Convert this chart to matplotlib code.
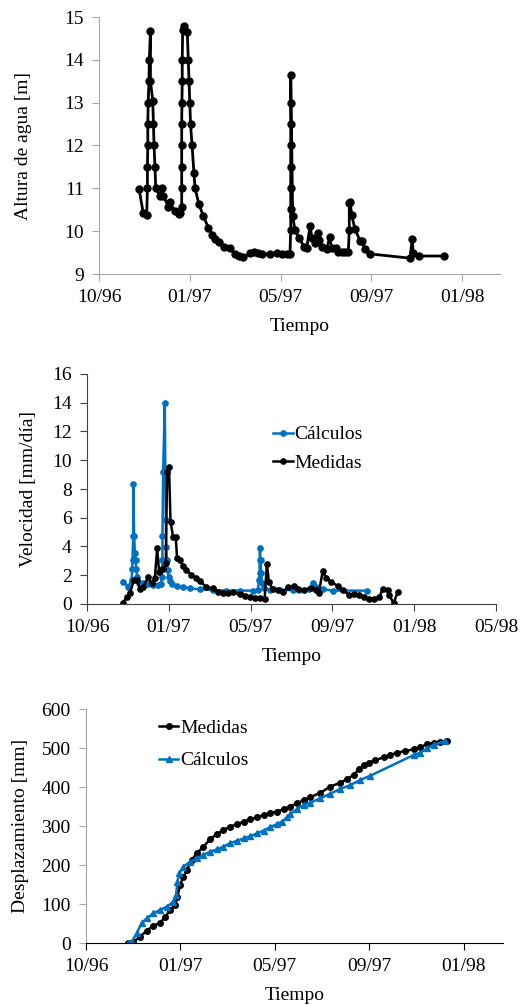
import matplotlib
matplotlib.use("Agg")
import matplotlib.pyplot as plt

plt.rcParams["font.family"] = ["Liberation Serif", "DejaVu Serif"]
plt.rcParams["font.size"] = 14

# Time axis: days since 1996-10-01, ticks every 120 days
tick_days = [0, 120, 240, 360, 480, 600]
tick_labels = ["10/96", "01/97", "05/97", "09/97", "01/98", "05/98"]

# Water level (Altura de agua [m])
altura_dias = [53, 58.5, 63, 64, 64, 64.5, 64.5, 65, 66, 66.5, 68, 68, 71, 72, 72.7, 74, 75,
               80.6, 83.7, 85, 91.6, 93.8, 100.4, 105.7, 107, 109.3, 109.3, 109.3, 109.3,
               109.3, 109.6, 110, 110, 110.6, 112.3, 116.7, 118, 119, 120, 121, 123, 125.5,
               127, 132, 138, 144.5, 150, 153, 158, 165, 173, 180, 185.5, 190.7, 199.6, 205,
               210.5, 215, 226, 235, 241.5, 248, 252.4, 253.4, 253.4, 253.4, 253.4, 253.4,
               253.4, 253.4, 253.4, 256, 259, 264.7, 271, 274.5, 279, 281.5, 285.5, 290,
               291, 294.7, 301, 305, 307.5, 313, 316, 320.7, 325, 329.5, 330.8, 330.8, 331.7,
               334, 338.3, 345, 347, 351.5, 358, 411, 414, 415.4, 423, 456]
altura_m = [10.98, 10.42, 10.38, 11.0, 11.5, 12.0, 12.5, 13.0, 13.5, 14.0, 14.67, 13.5, 13.05,
            12.5, 12.0, 11.5, 11.0, 10.83, 11.0, 10.83, 10.57, 10.67, 10.46, 10.4, 10.42,
            10.57, 11.0, 11.5, 12.0, 12.5, 13.0, 13.5, 14.0, 14.7, 14.79, 14.65, 14.0, 13.5,
            13.0, 12.5, 12.0, 11.35, 11.0, 10.63, 10.35, 10.08, 9.91, 9.81, 9.74, 9.64, 9.6,
            9.47, 9.42, 9.39, 9.48, 9.52, 9.5, 9.47, 9.46, 9.48, 9.46, 9.46, 9.46, 10.03,
            10.51, 11.0, 11.5, 12.0, 12.5, 13.0, 13.65, 10.35, 10.03, 9.83, 9.64, 9.6, 10.12,
            9.84, 9.72, 9.95, 9.8, 9.64, 9.58, 9.87, 9.6, 9.6, 9.52, 9.51, 9.51, 9.51, 10.03,
            10.65, 10.69, 10.38, 10.04, 9.78, 9.78, 9.58, 9.47, 9.37, 9.81, 9.48, 9.42, 9.42]

# Velocity (Velocidad [mm/dia])
vel_calc_dias = [53.2, 60.5, 65.4, 66.3, 66.8, 67.8, 67.8, 69.2, 70.2, 71.2, 72.2, 73.6, 76.5,
                 82.4, 89.8, 97, 104.3, 108.3, 109.8, 110.7, 110.7, 111.7, 114.1, 115.1,
                 115.6, 116.1, 117.1, 118.1, 119.6, 121.5, 125.4, 131.3, 140.9, 150.7, 165.4,
                 184.8, 204.4, 223.9, 243.4, 250.7, 252.2, 253.2, 253.2, 253.7, 254.6, 255.6,
                 256.6, 259, 267.8, 282.4, 301.9, 311.7, 326.3, 331.2, 336.1, 345.8, 360.4,
                 410.2]
vel_calc = [1.55, 1.2, 1.67, 2.41, 3.06, 4.73, 8.35, 4.73, 3.57, 3.06, 2.41, 1.9, 1.48, 1.48,
            1.39, 1.32, 1.3, 1.39, 1.9, 3.06, 4.73, 9.18, 13.96, 8.16, 5.84, 3.99, 3.06, 2.37,
            1.9, 1.62, 1.39, 1.25, 1.16, 1.09, 1.02, 0.97, 0.93, 0.93, 0.93, 0.97, 1.67, 2.13,
            3.06, 3.87, 3.06, 2.13, 1.44, 1.09, 0.97, 0.97, 0.97, 0.97, 1.02, 1.44, 1.2, 1.02,
            0.93, 0.93]
vel_med_dias = [52.2, 58.1, 62.9, 68.8, 72.7, 77.6, 82.4, 89.8, 94.7, 99.5, 102.9, 105.8, 109.3,
                111.7, 115.6, 117.5, 120.4, 122.5, 126.3, 130.2, 132.1, 136.1, 140.9, 145.9,
                153.2, 160.5, 165.4, 175.2, 184.8, 192.2, 199.5, 206.8, 214.1, 223.9, 231.2,
                238.5, 245.9, 253.2, 260.5, 263.9, 266.8, 272.6, 280, 287.3, 294.6, 304.4,
                309.2, 319, 328.8, 336.1, 340, 345.8, 350.8, 358.1, 367.8, 375.1, 384.9, 392.2,
                399.5, 406.8, 414.1, 421.5, 428.8, 433.6, 440.9, 443.4, 449.7, 455.6]
vel_med = [0.05, 0.47, 0.74, 1.67, 1.67, 1.07, 1.2, 1.86, 1.44, 1.79, 3.87, 2.25, 2.41, 2.41,
           2.83, 9.2, 9.51, 5.73, 4.68, 4.68, 3.18, 3.06, 2.64, 2.37, 2.02, 1.79, 1.62, 1.16,
           1.09, 0.86, 0.74, 0.74, 0.81, 0.67, 0.58, 0.51, 0.44, 0.39, 0.33, 2.78, 1.55, 1.02,
           0.97, 0.86, 1.16, 1.25, 1.02, 0.97, 1.09, 0.97, 0.74, 2.3, 1.79, 1.55, 1.25, 0.97,
           0.63, 0.67, 0.63, 0.47, 0.33, 0.35, 0.47, 1.02, 0.97, 0.63, 0.05, 0.81]

# Displacement (Desplazamiento [mm])
desp_med_dias = [53.8, 60.2, 68.7, 77.2, 85.7, 94.2, 100.5, 106.9, 113.3, 116.2, 119.6, 123.8,
                 128.1, 134.5, 140.9, 149.3, 157.8, 166.3, 174.7, 183.2, 191.8, 200.2, 208.7,
                 217.2, 225.6, 234.1, 242.7, 251.1, 259.6, 268.1, 276.5, 285, 297.8, 310.5,
                 323.2, 331.7, 340.2, 346.6, 352.9, 359.3, 367.8, 378.3, 386.8, 395.4, 405.9,
                 416.5, 425, 433.5, 441.9, 450.5, 459]
desp_med = [0, 3, 16, 32, 44, 52, 66, 85, 97, 119, 149, 170, 187, 213, 230, 247, 266, 279, 290,
            298, 305, 311, 317, 322, 328, 333, 337, 343, 350, 358, 366, 374, 385, 401, 411, 420,
            431, 445, 456, 462, 469, 476, 482, 488, 492, 497, 503, 509, 514, 516, 519]
desp_calc_dias = [53.8, 58.1, 64.5, 70.9, 77.2, 85.7, 94.2, 102.7, 111.1, 114.5, 116.2, 118.8,
                  123.8, 132.3, 140.9, 149.3, 157.8, 166.3, 174.7, 183.2, 191.8, 200.2, 208.7,
                  217.2, 225.6, 234.1, 242.7, 249, 255.4, 259.6, 268.1, 276.5, 285, 297.8,
                  310.5, 323.2, 336, 348.7, 361.4, 416.5, 425, 433.5, 441.9, 456.8]
desp_calc = [0, 3, 25, 52, 63, 76, 85, 93, 106, 123, 157, 179, 196, 208, 217, 226, 234, 240,
             247, 256, 262, 268, 274, 281, 288, 297, 305, 311, 322, 330, 343, 354, 360, 371,
             383, 395, 405, 418, 429, 482, 488, 499, 508, 518]

AZUL = "#0070C0"
GRIS = "#A6A6A6"

fig = plt.figure(figsize=(5.2, 10.05), dpi=100)


def px_axes(left, top, right, bottom):
    W, H = 520, 1005
    return fig.add_axes([left / W, 1 - bottom / H, (right - left) / W, (bottom - top) / H])


def style(ax, xcol, ycol, xmax):
    for s in ["top", "right"]:
        ax.spines[s].set_visible(False)
    ax.spines["bottom"].set_color(xcol)
    ax.spines["left"].set_color(ycol)
    ax.tick_params(axis="x", colors=xcol, length=5, pad=6, labelcolor="black")
    ax.tick_params(axis="y", colors=ycol, length=5, pad=6, labelcolor="black")
    ticks = [t for t in tick_days if t <= xmax]
    ax.set_xticks(ticks)
    ax.set_xticklabels(tick_labels[: len(ticks)])
    ax.set_xlim(0, xmax)
    ax.set_xlabel("Tiempo", labelpad=8.5)


# Plot 1
ax1 = px_axes(99, 17, 500, 274)
ax1.plot(altura_dias, altura_m, "-o", color="black", lw=2, ms=5, clip_on=False)
ax1.set_ylim(9, 15)
ax1.set_yticks(range(9, 16))
ax1.set_ylabel("Altura de agua [m]")
style(ax1, GRIS, GRIS, 530)
ax1.yaxis.set_label_coords(-0.167, 0.5)

# Plot 2
ax2 = px_axes(87, 374, 496, 604)
ax2.plot(vel_calc_dias, vel_calc, "-o", color=AZUL, lw=1.8, ms=3.8, label="Cálculos")
ax2.plot(vel_med_dias, vel_med, "-o", color="black", lw=1.8, ms=3.8, label="Medidas")
ax2.set_ylim(0, 16)
ax2.set_yticks(range(0, 17, 2))
ax2.set_ylabel("Velocidad [mm/día]")
style(ax2, "#404040", "#404040", 600)
ax2.yaxis.set_label_coords(-0.122, 0.5)
ax2.legend(loc="upper left", bbox_to_anchor=(0.455, 0.775), frameon=False, borderpad=0,
           handlelength=1.0, handletextpad=0.1, labelspacing=0.55, borderaxespad=0)

# Plot 3
ax3 = px_axes(86, 709, 503, 943)
ax3.plot(desp_med_dias, desp_med, "-o", color="black", lw=1.8, ms=4, label="Medidas")
ax3.plot(desp_calc_dias, desp_calc, "-^", color=AZUL, lw=1.8, ms=4.5, label="Cálculos")
ax3.set_ylim(0, 600)
ax3.set_yticks(range(0, 601, 100))
ax3.set_ylabel("Desplazamiento [mm]")
style(ax3, "black", GRIS, 530)
ax3.yaxis.set_label_coords(-0.137, 0.5)
ax3.legend(loc="upper left", bbox_to_anchor=(0.175, 0.955), frameon=False, borderpad=0,
           handlelength=1.0, handletextpad=0.1, labelspacing=0.75, borderaxespad=0)

fig.savefig("out.png", dpi=100)
